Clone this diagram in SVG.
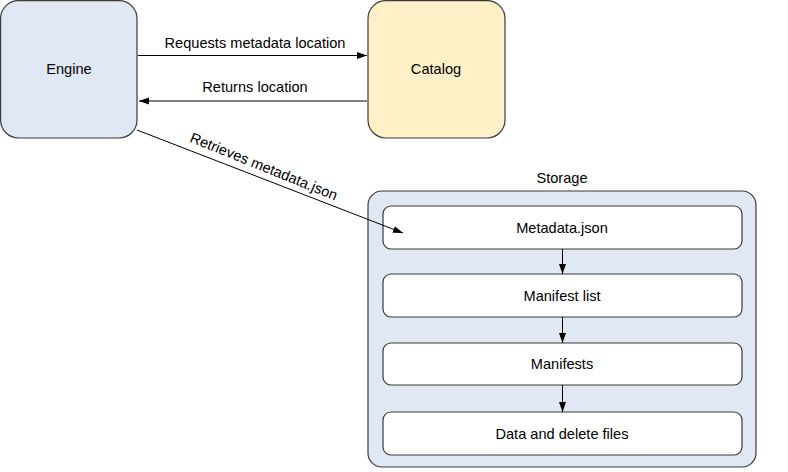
<svg xmlns="http://www.w3.org/2000/svg" width="788" height="472" viewBox="0 0 788 472">
<defs>
<style>
.node{stroke:#3a3a3a;stroke-width:1.2}
.t{font-family:"Liberation Sans",Arial,sans-serif;font-size:14.6px;fill:#000;text-anchor:middle}
.c{stroke:#000;stroke-width:1;fill:none}
</style>
<marker id="ah" viewBox="0 0 10 10" refX="10" refY="5" markerWidth="10" markerHeight="10" markerUnits="userSpaceOnUse" orient="auto">
<path d="M0,1.5 L10,5 L0,8.5 Z" fill="#000"/>
</marker>
</defs>
<rect width="788" height="472" fill="#fff"/>
<g id="engine">
<rect class="node" x="0.6" y="0.6" width="136.4" height="137.4" rx="18" fill="#dfe8f3"/>
<text class="t" x="69" y="74">Engine</text>
</g>
<g id="catalog">
<rect class="node" x="368" y="0.6" width="137" height="137.4" rx="18" fill="#fff0c8"/>
<text class="t" x="436" y="74">Catalog</text>
</g>
<g id="storage">
<rect class="node" x="368" y="191" width="388" height="276" rx="14" fill="#dfe8f3"/>
<text class="t" x="562" y="183">Storage</text>
</g>
<g id="metadata">
<rect class="node" x="383" y="206" width="359" height="43" rx="8" fill="#fff"/>
<text class="t" x="562" y="233">Metadata.json</text>
</g>
<g id="manifestlist">
<rect class="node" x="383" y="274" width="359" height="43" rx="8" fill="#fff"/>
<text class="t" x="562" y="301">Manifest list</text>
</g>
<g id="manifests">
<rect class="node" x="383" y="343" width="359" height="42" rx="8" fill="#fff"/>
<text class="t" x="562" y="369">Manifests</text>
</g>
<g id="datafiles">
<rect class="node" x="383" y="412" width="359" height="43" rx="8" fill="#fff"/>
<text class="t" x="562" y="439">Data and delete files</text>
</g>
<g id="connectors">
<line class="c" x1="138" y1="55.5" x2="367" y2="55.5" marker-end="url(#ah)"/>
<text class="t" x="255" y="48">Requests metadata location</text>
<line class="c" x1="367" y1="101" x2="139" y2="101" marker-end="url(#ah)"/>
<text class="t" x="255" y="92">Returns location</text>
<line class="c" x1="137" y1="130" x2="403" y2="233" marker-end="url(#ah)"/>
<text class="t" x="262" y="171" transform="rotate(22 262 171)">Retrieves metadata.json</text>
<line class="c" x1="562.5" y1="249" x2="562.5" y2="274" marker-end="url(#ah)"/>
<line class="c" x1="562.5" y1="317" x2="562.5" y2="343" marker-end="url(#ah)"/>
<line class="c" x1="562.5" y1="385" x2="562.5" y2="412" marker-end="url(#ah)"/>
</g>
</svg>
